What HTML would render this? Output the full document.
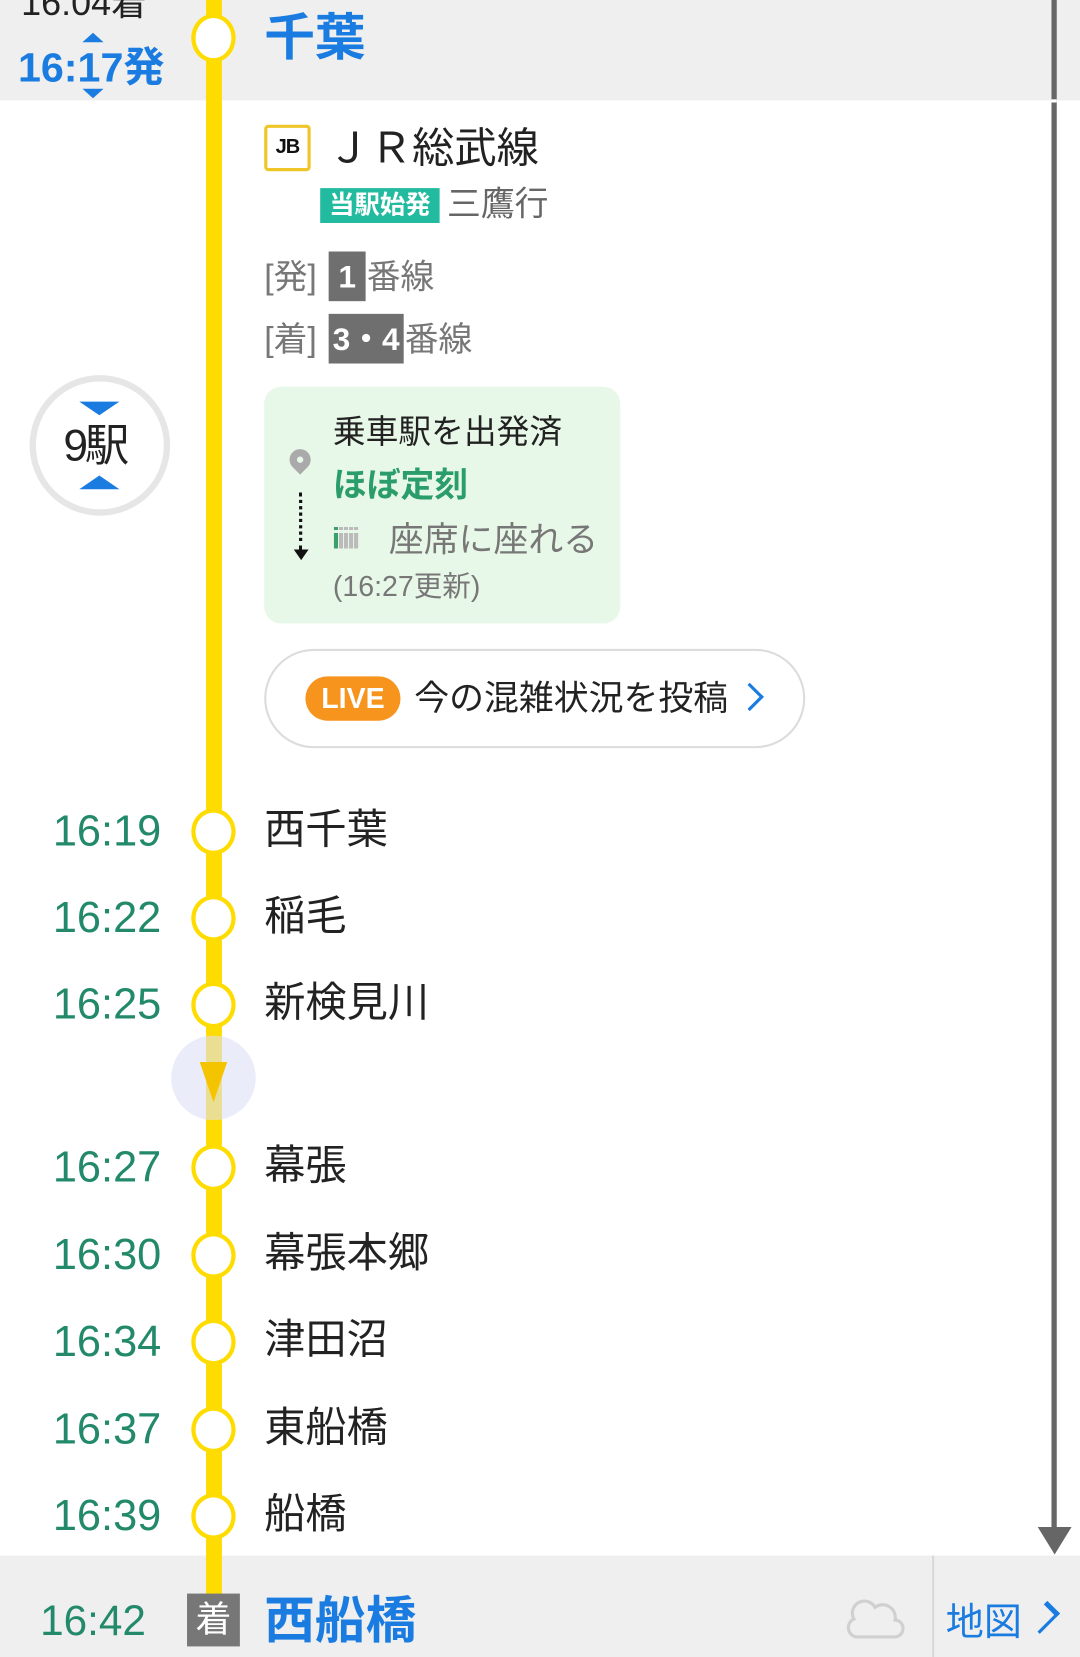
<!DOCTYPE html>
<html><head><meta charset="utf-8"><style>
html,body{margin:0;padding:0;width:1080px;height:1657px;overflow:hidden;background:#fff}
#w{position:absolute;left:0;top:0;width:1022px;height:1568px;transform:scale(1.05675);transform-origin:0 0;font-family:"Liberation Sans","Noto Sans CJK JP",sans-serif}
.a{position:absolute;white-space:nowrap;line-height:1}
.c{position:absolute;left:181px;width:34px;height:36px;border:4px solid #ffdc00;border-radius:50%;background:#fff;box-sizing:content-box}
.t{position:absolute;left:50px;font-size:41px;color:#22896a;line-height:1}
.n{position:absolute;left:250px;font-size:39px;color:#222;line-height:1}
</style></head><body><div id="w">
<div class="a" style="left:0;top:0;width:1022px;height:95px;background:#efefef"></div>
<div class="a" style="left:0;top:1472px;width:1022px;height:96px;background:#efefef"></div>
<div class="a" style="left:995px;top:0;width:5px;height:1450px;background:#666"></div>
<div class="a" style="left:995px;top:94px;width:5px;height:3px;background:#fff"></div>
<div class="a" style="left:982px;top:1445px;width:0;height:0;border-left:16px solid transparent;border-right:16px solid transparent;border-top:26px solid #666"></div>
<div class="a" style="left:882px;top:1472px;width:2px;height:96px;background:#d8d8d8"></div>
<div class="a" style="left:195px;top:0;width:15px;height:1510px;background:#ffdc00"></div>

<div class="a" style="left:20px;top:-14px;font-size:34px;color:#222">16:04着</div>
<div class="a" style="left:78px;top:31px;border-left:10px solid transparent;border-right:10px solid transparent;border-bottom:9px solid #1a7ce0"></div>
<div class="a" style="left:17px;top:45px;font-size:39px;font-weight:bold;color:#1a7ce0">16:17発</div>
<div class="a" style="left:78px;top:84px;border-left:10px solid transparent;border-right:10px solid transparent;border-top:9px solid #1a7ce0"></div>
<div class="c" style="top:13px;height:38px"></div>
<div class="a" style="left:250px;top:13px;font-size:48px;font-weight:bold;color:#1a7ce0">千葉</div>

<div class="a" style="left:250px;top:118px;width:38px;height:38px;border:3px solid #eec62a;border-radius:4px;background:#fff;font-size:19px;font-weight:bold;text-align:center;line-height:38px;color:#111;letter-spacing:-1px">JB</div>
<div class="a" style="left:310px;top:121px;font-size:40px;color:#222">ＪＲ総武線</div>
<div class="a" style="left:303px;top:178px;width:113px;height:33px;background:#22bba0;color:#fff;font-size:24px;font-weight:bold;text-align:center;line-height:33px">当駅始発</div>
<div class="a" style="left:423px;top:177px;font-size:32px;color:#666">三鷹行</div>
<div class="a" style="left:250px;top:246px;font-size:32px;color:#777">[発]</div>
<div class="a" style="left:311px;top:238px;width:35px;height:47px;background:#6f6f6f;color:#fff;font-size:30px;font-weight:bold;text-align:center;line-height:50px">1</div>
<div class="a" style="left:347px;top:246px;font-size:32px;color:#777">番線</div>
<div class="a" style="left:250px;top:305px;font-size:32px;color:#777">[着]</div>
<div class="a" style="left:311px;top:297px;width:71px;height:47px;background:#6f6f6f;color:#fff;font-size:30px;font-weight:bold;text-align:center;line-height:50px">3・4</div>
<div class="a" style="left:383px;top:305px;font-size:32px;color:#777">番線</div>

<div class="a" style="left:28px;top:355px;width:133px;height:133px;border:6px solid #e6e6e6;border-radius:50%;box-sizing:border-box"></div>
<div class="a" style="left:75px;top:380px;border-left:19px solid transparent;border-right:19px solid transparent;border-top:13px solid #1a7ce0"></div>
<div class="a" style="left:60px;top:401px;font-size:42px;color:#222;letter-spacing:-3px">9駅</div>
<div class="a" style="left:75px;top:450px;border-left:19px solid transparent;border-right:19px solid transparent;border-bottom:13px solid #1a7ce0"></div>

<div class="a" style="left:250px;top:366px;width:337px;height:224px;background:#e8f8e8;border-radius:16px"></div>
<div class="a" style="left:274px;top:425px;width:20px;height:20px;border-radius:50% 50% 50% 0;transform:rotate(-45deg);background:#aaa"></div>
<div class="a" style="left:281px;top:432px;width:6px;height:6px;border-radius:50%;background:#e8f8e8"></div>
<div class="a" style="left:283px;top:466px;width:0;height:54px;border-left:3px dotted #111"></div>
<div class="a" style="left:278px;top:520px;border-left:7px solid transparent;border-right:7px solid transparent;border-top:10px solid #111"></div>
<div class="a" style="left:315px;top:393px;font-size:31px;color:#222">乗車駅を出発済</div>
<div class="a" style="left:315px;top:443px;font-size:32px;font-weight:bold;color:#2a9d6a">ほぼ定刻</div>
<div class="a" style="left:314px;top:496px;font-size:28px;font-weight:bold;color:#bbb;letter-spacing:-3px"><span style="color:#3aa06a">i</span>iiii</div>
<div class="a" style="left:368px;top:494px;font-size:33px;color:#777">座席に座れる</div>
<div class="a" style="left:315px;top:542px;font-size:27px;color:#777">(16:27更新)</div>

<div class="a" style="left:250px;top:614px;width:512px;height:94px;border:2px solid #dcdcdc;border-radius:48px;box-sizing:border-box"></div>
<div class="a" style="left:289px;top:640px;width:90px;height:42px;border-radius:21px;background:#f7941d;color:#fff;font-size:27px;font-weight:bold;text-align:center;line-height:42px">LIVE</div>
<div class="a" style="left:392px;top:644px;font-size:33px;color:#222">今の混雑状況を投稿</div>
<div class="a" style="left:700px;top:650px;width:16px;height:16px;border-right:3px solid #1a7ce0;border-top:3px solid #1a7ce0;transform:rotate(45deg)"></div>

<div class="t" style="top:766px">16:19</div><div class="c" style="top:765px"></div><div class="n" style="top:766px">西千葉</div>
<div class="t" style="top:848px">16:22</div><div class="c" style="top:847px"></div><div class="n" style="top:848px">稲毛</div>
<div class="t" style="top:930px">16:25</div><div class="c" style="top:929px"></div><div class="n" style="top:930px">新検見川</div>

<div class="a" style="left:162px;top:980px;width:80px;height:80px;border-radius:50%;background:rgba(220,224,245,0.6)"></div>
<div class="a" style="left:189px;top:1005px;border-left:13px solid transparent;border-right:13px solid transparent;border-top:38px solid #f5c400"></div>

<div class="t" style="top:1084px">16:27</div><div class="c" style="top:1083px"></div><div class="n" style="top:1084px">幕張</div>
<div class="t" style="top:1167px">16:30</div><div class="c" style="top:1166px"></div><div class="n" style="top:1167px">幕張本郷</div>
<div class="t" style="top:1249px">16:34</div><div class="c" style="top:1248px"></div><div class="n" style="top:1249px">津田沼</div>
<div class="t" style="top:1332px">16:37</div><div class="c" style="top:1331px"></div><div class="n" style="top:1332px">東船橋</div>
<div class="t" style="top:1414px">16:39</div><div class="c" style="top:1413px"></div><div class="n" style="top:1414px">船橋</div>

<div class="a" style="left:38px;top:1514px;font-size:40px;color:#22896a">16:42</div>
<div class="a" style="left:177px;top:1508px;width:50px;height:50px;background:#777;color:#fff;font-size:34px;text-align:center;line-height:50px">着</div>
<div class="a" style="left:250px;top:1511px;font-size:48px;font-weight:bold;color:#1a7ce0">西船橋</div>
<svg class="a" style="left:800px;top:1513px" width="56" height="40" viewBox="0 0 56 40"><path d="M10 36 A9 9 0 0 1 8 19 A11 11 0 0 1 28 8 A12 12 0 0 1 47 20 A8 8 0 0 1 46 36 Z" fill="none" stroke="#d0d0d0" stroke-width="3"/></svg>
<div class="a" style="left:895px;top:1517px;font-size:36px;color:#1a7ce0">地図</div>
<div class="a" style="left:979px;top:1522px;width:14px;height:14px;border-right:3px solid #1a7ce0;border-top:3px solid #1a7ce0;transform:rotate(45deg) scaleY(1.6)"></div>
</div></body></html>
